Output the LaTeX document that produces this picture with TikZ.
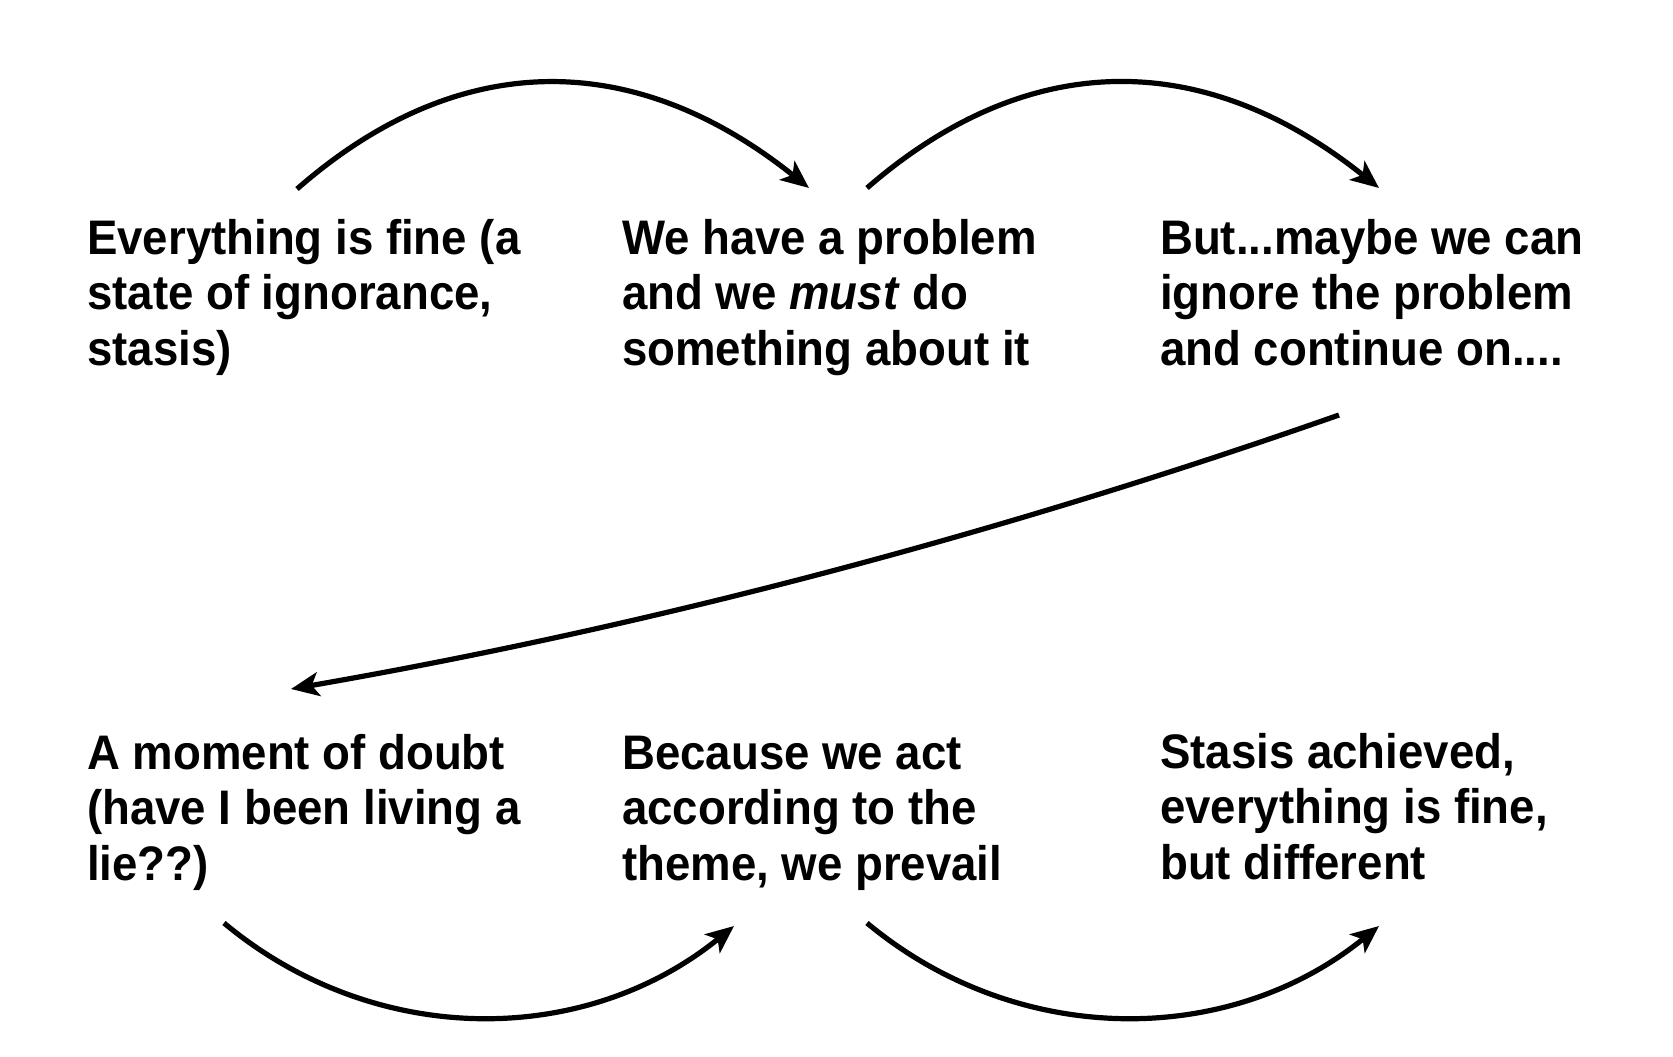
\documentclass[tikz,border=0pt]{standalone}
\usepackage{fontspec}
\setmainfont{Liberation Sans}[FakeStretch=0.94]
\usetikzlibrary{arrows.meta}
\begin{document}
\begin{tikzpicture}[x=1pt,y=-1pt,
  lbl/.style={anchor=base west, inner sep=0pt, align=left, font=\fontsize{48.5}{55.5}\selectfont\bfseries},
  arr/.style={line width=5.2pt, -{Stealth[length=28pt,width=24pt,inset=7pt]}}]
\useasboundingbox (0,0) rectangle (1673,1057);
\node[lbl] (t1) at (87,365) {Everything is fine (a\\state of ignorance,\\stasis)};
\node[lbl] (t2) at (622,365) {We have a problem\\and we \textit{must} do\\something about it};
\node[lbl] (t3) at (1160,365) {But...maybe we can\\ignore the problem\\and continue on....};
\node[lbl] (t4) at (87,880) {A moment of doubt\\(have I been living a\\lie??)};
\node[lbl] (t5) at (622,880) {Because we act\\according to the\\theme, we prevail};
\node[lbl] (t6) at (1160,879) {Stasis achieved,\\everything is fine,\\but different};
\coordinate (a1s) at (297,189);
\coordinate (a1e) at (809,188);
\coordinate (a2s) at (867,188);
\coordinate (a2e) at (1379,188);
\coordinate (a3s) at (1339,415);
\coordinate (a3e) at (291,689);
\coordinate (a4s) at (224,923);
\coordinate (a4e) at (734,926);
\coordinate (a5s) at (867,923);
\coordinate (a5e) at (1379,926);
\draw[arr] (a1s) .. controls (458,48) and (634,48) .. (a1e);
\draw[arr] (a2s) .. controls (1028,48) and (1204,48) .. (a2e);
\draw[arr] (a3s) .. controls (997,535) and (648,627) .. (a3e);
\draw[arr] (a4s) .. controls (374,1048) and (584,1048) .. (a4e);
\draw[arr] (a5s) .. controls (1017,1048) and (1229,1048) .. (a5e);
\end{tikzpicture}
\end{document}
